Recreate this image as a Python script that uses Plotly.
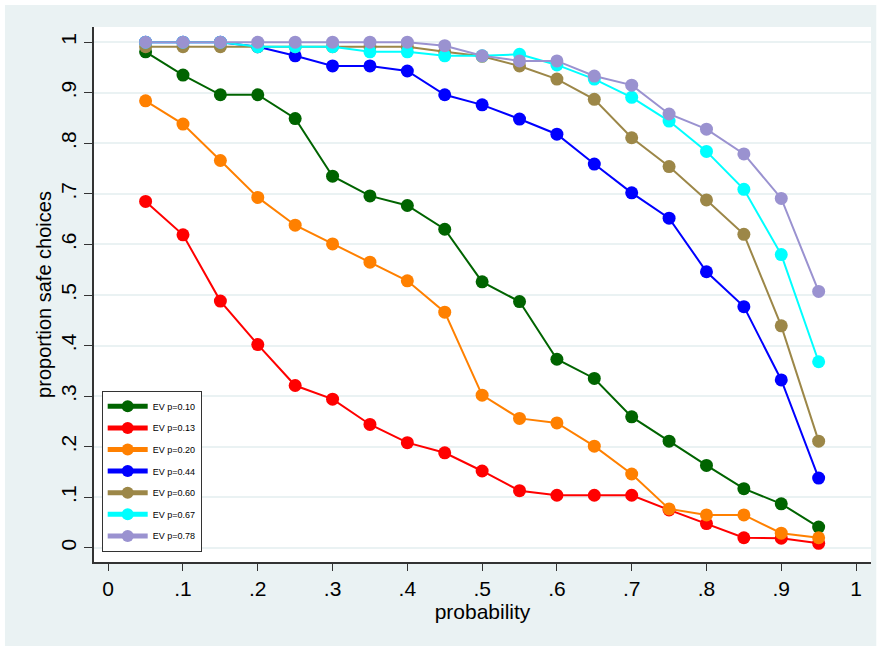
import plotly.graph_objects as go

probability = [0.05, 0.10, 0.15, 0.20, 0.25, 0.30, 0.35, 0.40, 0.45, 0.50,
               0.55, 0.60, 0.65, 0.70, 0.75, 0.80, 0.85, 0.90, 0.95]

ev_010 = [0.981, 0.935, 0.896, 0.896, 0.849, 0.735, 0.696, 0.677, 0.630, 0.526,
          0.487, 0.373, 0.335, 0.259, 0.211, 0.163, 0.117, 0.087, 0.041]
ev_013 = [0.685, 0.619, 0.488, 0.402, 0.321, 0.294, 0.244, 0.208, 0.188, 0.152,
          0.113, 0.104, 0.104, 0.104, 0.075, 0.048, 0.020, 0.019, 0.009]
ev_020 = [0.884, 0.838, 0.766, 0.693, 0.638, 0.601, 0.565, 0.528, 0.466, 0.302,
          0.256, 0.247, 0.201, 0.146, 0.077, 0.065, 0.065, 0.029, 0.020]
ev_044 = [1.0, 1.0, 1.0, 0.991, 0.973, 0.953, 0.953, 0.943, 0.896, 0.876,
          0.848, 0.818, 0.759, 0.702, 0.652, 0.546, 0.477, 0.332, 0.138]
ev_060 = [0.991, 0.991, 0.991, 0.991, 0.991, 0.991, 0.991, 0.991, 0.981, 0.972,
          0.953, 0.927, 0.887, 0.811, 0.754, 0.688, 0.620, 0.439, 0.211]
ev_067 = [1.0, 1.0, 1.0, 0.991, 0.991, 0.991, 0.981, 0.981, 0.973, 0.973,
          0.976, 0.955, 0.927, 0.891, 0.844, 0.784, 0.709, 0.580, 0.368]
ev_078 = [1.0, 1.0, 1.0, 1.0, 1.0, 1.0, 1.0, 1.0, 0.993, 0.973,
          0.963, 0.963, 0.933, 0.915, 0.858, 0.828, 0.779, 0.691, 0.507]

series_names = ["EV p=0.10", "EV p=0.13", "EV p=0.20", "EV p=0.44",
                "EV p=0.60", "EV p=0.67", "EV p=0.78"]
series_values = [ev_010, ev_013, ev_020, ev_044, ev_060, ev_067, ev_078]
series_colors = ["#006400", "#FF0000", "#FF8000", "#0000FF",
                 "#9C8748", "#00FFFF", "#9A92D0"]

x_tickvals = [0, 0.1, 0.2, 0.3, 0.4, 0.5, 0.6, 0.7, 0.8, 0.9, 1]
x_ticktext = ["0", ".1", ".2", ".3", ".4", ".5", ".6", ".7", ".8", ".9", "1"]
y_tickvals = x_tickvals
y_ticktext = x_ticktext

FONT = "Liberation Sans, Arial, Helvetica, sans-serif"
BG = "#EAF2F3"

fig = go.Figure()
for name, vals, col in zip(series_names, series_values, series_colors):
    fig.add_trace(go.Scatter(
        x=probability, y=vals, name=name, mode="lines+markers",
        legendgroup=name,
        line=dict(color=col, width=2),
        marker=dict(color=col, size=13, symbol="circle"),
    ))

# outer graph background (Stata-style) and white plot region
fig.add_shape(type="rect", xref="paper", yref="paper",
              x0=-0.1146, x1=1.0068, y0=-0.157, y1=1.0411,
              fillcolor=BG, line=dict(width=0), layer="below")
fig.add_shape(type="rect", xref="paper", yref="paper",
              x0=0, x1=1, y0=0, y1=1,
              fillcolor="white", line=dict(width=0), layer="below")

fig.update_layout(
    template="none",
    width=880, height=648,
    margin=dict(l=94, r=9, t=27, b=86, autoexpand=False),
    paper_bgcolor="white", plot_bgcolor="white",
    font=dict(family=FONT, color="black", size=20),
    showlegend=True,
    legend=dict(
        x=0.0099, y=0.320, xanchor="left", yanchor="top",
        bgcolor="white", bordercolor="#333333", borderwidth=1,
        font=dict(family=FONT, size=9, color="black"),
        itemsizing="constant", tracegroupgap=2.6, itemwidth=40,
    ),
    xaxis=dict(
        automargin=False,
        range=[-0.019, 1.02], tickvals=x_tickvals, ticktext=x_ticktext,
        showgrid=False, zeroline=False,
        showline=True, linecolor="#333333", linewidth=1.5,
        ticks="outside", ticklen=7, tickwidth=1.2, tickcolor="#333333",
        tickfont=dict(size=21),
        title=dict(text="probability", font=dict(size=21), standoff=2),
    ),
    yaxis=dict(
        automargin=False,
        range=[-0.028, 1.03], tickvals=y_tickvals, ticktext=y_ticktext,
        tickangle=-90,
        showgrid=True, gridcolor=BG, gridwidth=2,
        zeroline=False,
        showline=True, linecolor="#333333", linewidth=1.5,
        ticks="outside", ticklen=8, tickwidth=1.2, tickcolor="#333333",
        tickfont=dict(size=21),
        title=dict(text="proportion safe choices", font=dict(size=20), standoff=0),
    ),
)

fig.write_html("out.html", config={"displayModeBar": False},
               post_script="document.body.style.margin='0px';")
